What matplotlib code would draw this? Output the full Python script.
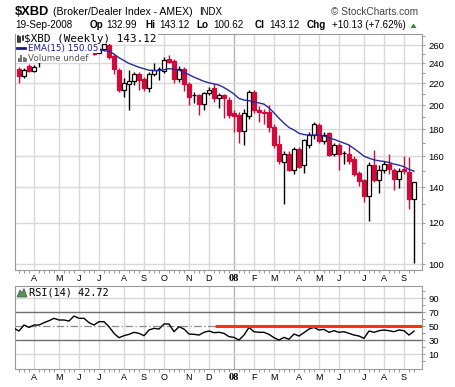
import numpy as np
import pandas as pd
import matplotlib
matplotlib.use('Agg')
import matplotlib.pyplot as plt
from matplotlib.patches import Rectangle, Polygon
from matplotlib.lines import Line2D

# ---------------- data (weekly, weeks starting Monday) ----------------
first_week = '2007-03-12'
opens = [234, 227, 237, 232, 241, 244, 247, 250, 253, 249, 252, 251, 258, 253, 256, 253,
         251, 255, 260, 248, 233, 214, 219, 222, 229, 224, 216, 229, 234, 232, 245, 243,
         224, 234, 219, 209.5, 209, 201, 211, 216, 206, 209, 205, 193, 192, 179, 191, 212,
         196, 194, 194, 182, 169, 156, 162, 151, 165, 154, 168, 176, 183.5, 171, 177, 161.5,
         168, 162.6, 162, 158, 149, 144.5, 134.7, 154, 144.7, 151, 155, 151, 145, 151.5,
         149.7, 132.99]
highs = [236, 235, 239, 238, 246, 249, 252, 255, 256, 254, 256, 259, 262, 258, 259, 256,
         258, 264, 262, 250, 235, 225, 233, 231, 231, 226, 231, 240, 236, 247, 249, 245,
         237, 236, 221, 212, 210, 212, 217, 219, 211, 210, 207, 196, 194, 197, 214, 214,
         199, 197, 200, 184, 176, 164, 164, 167, 167, 173, 178, 186, 185, 178, 178, 170,
         170, 164, 168, 160, 150, 145, 156, 164.6, 154, 157, 162, 152, 152, 160,
         159.4, 143.12]
lows = [220, 225, 231, 231, 236, 242, 244, 247, 246, 246, 248, 250, 250, 249, 250, 249,
        251, 253, 245, 229, 212, 207, 196, 218, 214, 213, 212, 227, 223, 230, 240, 220,
        221, 213, 200, 202, 192, 196, 209, 203, 198, 189, 189, 178, 170, 168, 188, 193,
        186, 184, 178, 166, 155, 130, 150, 148, 152, 149, 166, 173, 170, 169, 160, 160,
        151, 155, 155, 147, 141, 131, 121, 143, 136.7, 149, 148, 138.5, 139.5, 148,
        127.2, 100.62]
closes = [227, 233, 232, 236, 244, 247, 250, 253, 249, 252, 251, 258, 253, 256, 253, 250,
          256, 261, 247, 234, 214, 220, 222, 229, 223, 216, 229, 233.5, 233.8, 244, 242, 224,
          234, 219, 207, 209, 201, 211, 214, 206, 209, 206, 192, 191, 179, 193, 212, 196,
          194, 193, 182, 168, 157, 162, 151, 165, 153, 172, 176, 184, 171, 176, 161, 168.2,
          162, 162.4, 157, 148, 144, 134.7, 154, 144.5, 151, 155, 151.5, 144.9, 150.5, 150.2,
          132.99, 143.12]
ema_start = 16
ema15 = [254, 254, 253, 250, 246, 243, 240, 238, 236, 234.5, 233, 232.7, 232.5, 233.5,
         234.6, 234, 233, 231, 228.5, 226, 224, 222, 220.5, 219.5, 218.4, 216, 213.2, 210,
         206, 204.6, 204, 203, 202, 201, 197.7, 193.5, 189, 185, 181.5, 179.6, 177, 176,
         175.7, 175.7, 175.7, 174.9, 173.6, 172.4, 171, 169.6, 168.2, 165.6, 163, 160.2,
         158.8, 157.7, 157, 156.6, 155.9, 154.8, 154.1, 153, 151.3, 150.05]
rsi_start = -1
rsi14 = [46.7, 42.9, 51.4, 48, 51.4, 51.4, 54.8, 57.6, 61, 58.6, 58.6, 57.1, 64.3, 61, 61,
         54.8, 51.4, 56.2, 56.2, 49, 39.5, 33.3, 36.2, 38.1, 41, 39.5, 36.2, 44.3, 46.7, 45.7,
         52.9, 52.9, 41.9, 49, 45.7, 38.6, 38.1, 37.1, 41, 42.9, 40.5, 41, 39.5, 34.8, 33.8,
         30, 37.1, 48, 41.9, 41, 41, 38.1, 33.3, 30, 33.8, 31, 38.6, 35.7, 40.5, 45.7, 48,
         44.3, 45.2, 41, 43.3, 41, 41.9, 39.5, 37.1, 35.7, 32.4, 42.9, 41, 43.3, 44.3, 43.3,
         41.9, 44.3, 43.3, 37.1, 42.72]
price_ticks = [100, 120, 140, 160, 180, 200, 220, 240, 260]
rsi_ticks = [10, 30, 50, 70, 90]
rsi_trend_level = 50
rsi_trend_start = '2007-12-12'

# ---------------- figure ----------------
W, H = 455, 387
plt.rcParams['font.family'] = ['Liberation Sans', 'DejaVu Sans']
fig = plt.figure(figsize=(W / 100, H / 100), dpi=100)
fig.patch.set_facecolor('white')

def add_axes_px(l, t, r, b):
    return fig.add_axes([l / W, 1 - b / H, (r - l) / W, (b - t) / H])

def fx(px):
    return px / W

def fy(py):
    return 1 - py / H

RED = '#d10a3c'
GRID = '#d9d9d9'
SPINE = '#9a9a9a'

n = len(closes)
weeks = pd.date_range(first_week, periods=n, freq='W-MON')
xs = np.arange(n)
month_idx = [i for i in range(1, n) if weeks[i].month != weeks[i - 1].month]
month_lab = ['08' if weeks[i].month == 1 else weeks[i].strftime('%b')[0] for i in month_idx]
jan_idx = [i for i in month_idx if weeks[i].month == 1]

ax = add_axes_px(15.5, 33.5, 422, 269.5)
ax2 = add_axes_px(15.5, 285.5, 422, 368.5)

for a in (ax, ax2):
    a.set_xlim(-0.7, 80.6)
    for s in a.spines.values():
        s.set_color(SPINE)
        s.set_linewidth(0.8)
    for i in month_idx:
        a.axvline(i, color='#b5b5b5' if i in jan_idx else GRID, lw=1, zorder=0.5)
    a.set_xticks(month_idx)
    a.set_xticks(xs, minor=True)
    a.set_xticklabels(month_lab)
    a.tick_params(axis='x', which='major', length=0, pad=3.5, labelsize=6.5)
    a.tick_params(axis='x', which='minor', length=1.8, color='#888888', width=0.6)
    for lab in a.get_xticklabels():
        if lab.get_text() == '08':
            lab.set_fontfamily('Liberation Serif')
            lab.set_fontweight('bold')
            lab.set_fontsize(7.5)
    a.yaxis.tick_right()

# ---------------- main price panel ----------------
ax.set_yscale('log')
ax.set_ylim(97.8, 273.4)
ax.set_yticks(price_ticks)
ax.set_yticklabels([str(t) for t in price_ticks])
ax.set_yticks(list(range(100, 271, 10)), minor=True)
ax.yaxis.set_minor_formatter(plt.NullFormatter())
ax.tick_params(axis='y', which='both', length=2.5, color='#888888', pad=2, labelsize=6.8, width=0.6)
for t in price_ticks:
    ax.axhline(t, color=GRID, lw=1, zorder=0.5)

prev_close = [opens[0]] + closes[:-1]
for i in range(n):
    o, h, l, c = opens[i], highs[i], lows[i], closes[i]
    col = 'black' if c >= prev_close[i] else RED
    face = 'white' if c > o else col
    ax.vlines(i, l, h, color=col, lw=1.0, zorder=3)
    lo, hi = min(o, c), max(o, c)
    ax.bar(i, max(hi - lo, 0.15), bottom=lo, width=0.78, facecolor=face,
           edgecolor=col, linewidth=0.9, zorder=4)

ax.plot(xs[ema_start:], ema15, color='#2a2a9e', lw=1.0, zorder=5)

# legend boxes (white background hiding bars behind)
for (l, t, r, b) in [(16, 34, 158, 43.5), (16, 43.5, 100, 53.2), (16, 53.2, 92.5, 63)]:
    ax.add_patch(Rectangle((fx(l), fy(b)), fx(r) - fx(l), fy(t) - fy(b), transform=fig.transFigure,
                           facecolor='white', edgecolor='none', zorder=6, clip_on=False))
# icons
for (x0, y0, y1) in [(18, 35.5, 41.5), (20, 36.5, 41.5), (22.5, 35.5, 40)]:
    fig.add_artist(Line2D([fx(x0), fx(x0)], [fy(y1), fy(y0)], color='black', lw=1.1))
fig.add_artist(Line2D([fx(17), fx(25)], [fy(48.3), fy(48.3)], color='#1a1a8c', lw=2))
for (x0, hgt) in [(17.5, 4), (20, 6), (22.5, 5), (25, 3)]:
    fig.add_artist(Rectangle((fx(x0), fy(61.5)), fx(2) - fx(0), (fy(0) - fy(hgt)),
                             facecolor='#777777', edgecolor='none'))
fig.text(fx(24.5), fy(38.8), '$XBD (Weekly) 143.12', family='DejaVu Sans Mono', fontsize=7.9,
         va='center', ha='left', color='black')
fig.text(fx(28), fy(48.3), 'EMA(15) 150.05', family='DejaVu Sans', fontsize=6.3,
         va='center', ha='left', color='#1a1a8c')
fig.text(fx(28), fy(58.2), 'Volume undef', family='DejaVu Sans', fontsize=6.3,
         va='center', ha='left', color='#555555')

# ---------------- RSI panel ----------------
ax2.set_ylim(-10.7, 107.9)
ax2.set_yticks(rsi_ticks)
ax2.set_yticklabels([str(t) for t in rsi_ticks])
ax2.set_yticks([0, 20, 40, 60, 80, 100], minor=True)
ax2.yaxis.set_minor_formatter(plt.NullFormatter())
ax2.tick_params(axis='y', which='both', length=2.5, color='#888888', pad=2, labelsize=6.8, width=0.6)
for t in (10, 90):
    ax2.axhline(t, color=GRID, lw=1, zorder=0.5)
for t in (30, 70):
    ax2.axhline(t, color='#6e6e6e', lw=1.0, zorder=1)
ax2.axhline(50, color='#8a8a8a', lw=0.9, ls=(0, (6, 2, 1, 2)), zorder=1)
ax2.plot(np.arange(rsi_start, rsi_start + len(rsi14)), rsi14, color='black', lw=1.0, zorder=4)
trend_x0 = (pd.Timestamp(rsi_trend_start) - pd.Timestamp(first_week)).days / 7
ax2.plot([trend_x0, ax2.get_xlim()[1]], [rsi_trend_level, rsi_trend_level],
         color='#ff3010', lw=2.2, zorder=5, solid_capstyle='butt')
fig.add_artist(Polygon([(fx(17), fy(297)), (fx(20), fy(290)), (fx(22), fy(293)),
                        (fx(24), fy(288.5)), (fx(27), fy(297))], closed=True,
                       facecolor='#5f8f5f', edgecolor='#2f5f2f', lw=0.5))
fig.text(fx(29), fy(292.3), 'RSI(14) 42.72', family='DejaVu Sans Mono', fontsize=7.4,
         va='center', ha='left', color='black')

# ---------------- header ----------------
fig.text(fx(14.5), fy(12.2), '$XBD', fontsize=9.3, fontweight='bold', va='center', ha='left')
fig.text(fx(53), fy(12.2), '(Broker/Dealer Index - AMEX)', fontsize=7.6, va='center', ha='left')
fig.text(fx(199), fy(12.2), 'INDX', fontsize=7.0, va='center', ha='left')
fig.text(fx(418.5), fy(12.2), '\u00a9 StockCharts.com', fontsize=7.3, va='center', ha='right',
         color='#444444')
pieces = [(15, '19-Sep-2008', 'normal'), (89.5, 'Op', 'bold'), (106.5, '132.99', 'normal'),
          (145.5, 'Hi', 'bold'), (159.5, '143.12', 'normal'), (196, 'Lo', 'bold'),
          (213, '100.62', 'normal'), (254.5, 'Cl', 'bold'), (269.5, '143.12', 'normal'),
          (307, 'Chg', 'bold'), (331.5, '+10.13 (+7.62%)', 'normal')]
for (px, s, wgt) in pieces:
    fig.text(fx(px), fy(25.5), s, fontsize=7.1, fontweight=wgt, va='center', ha='left')
fig.add_artist(Polygon([(fx(410.5), fy(28)), (fx(416.5), fy(28)), (fx(413.5), fy(23.5))],
                       closed=True, facecolor='#2e8b2e', edgecolor='none'))

fig.savefig('out.png', dpi=100, facecolor='white')
